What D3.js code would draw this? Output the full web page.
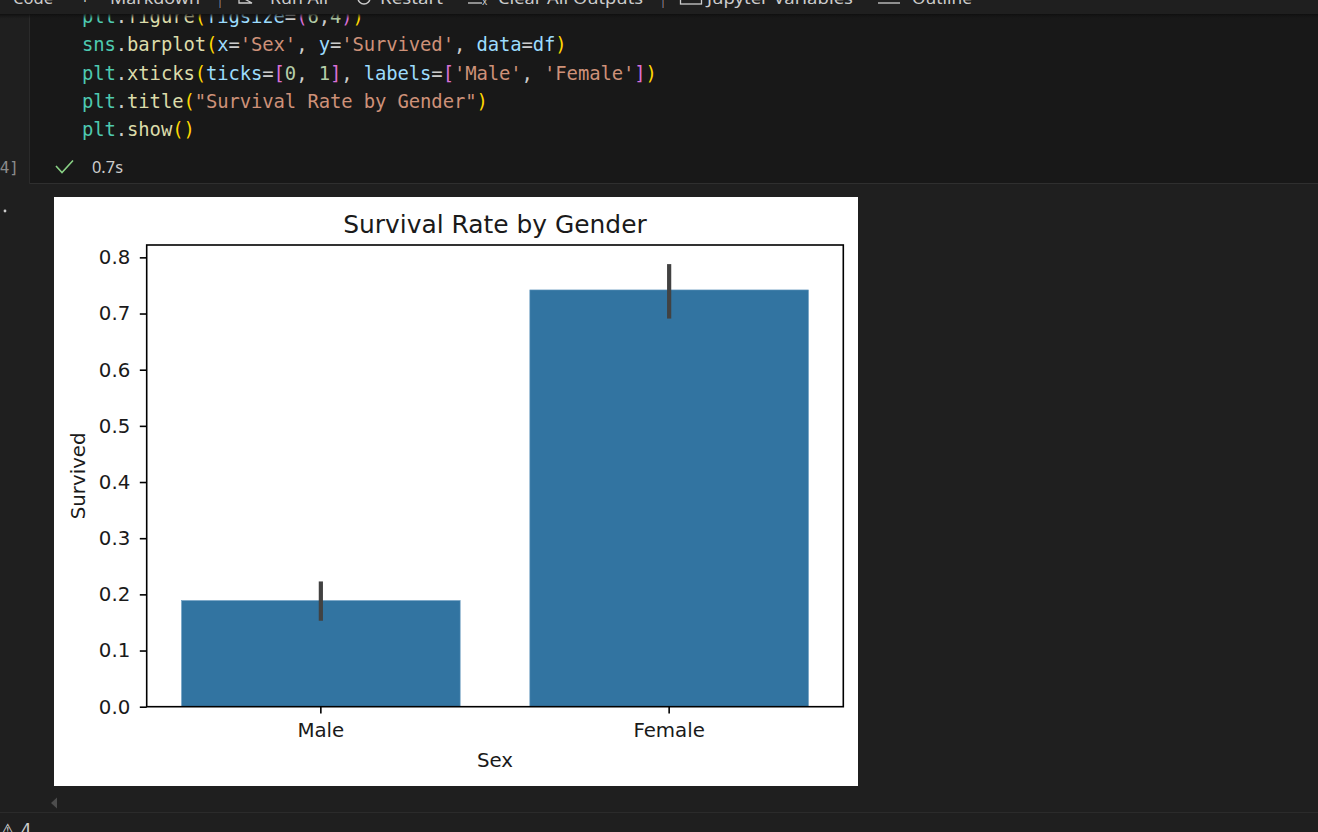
<!DOCTYPE html>
<html>
<head>
<meta charset="utf-8">
<script src="https://cdn.jsdelivr.net/npm/d3@7/dist/d3.min.js"></script>
<style>
  html, body { margin: 0; padding: 0; background: #1f1f1f; overflow: hidden; }
  svg { display: block; }
  .code { white-space: pre; }
</style>
</head>
<body>
<svg id="root" width="1318" height="832"></svg>
<script>
// ---------------- chart data ----------------
const categories = ["Male", "Female"];
const survivalMeans = [0.189, 0.742];
const ciLow = [0.153, 0.691];
const ciHigh = [0.223, 0.788];
const yTickValues = [0.0, 0.1, 0.2, 0.3, 0.4, 0.5, 0.6, 0.7, 0.8];
const yMax = 0.822;
const chartTitle = "Survival Rate by Gender";
const xLabel = "Sex";
const yLabel = "Survived";

// ---------------- notebook text ----------------
const codeLines = [
  [["plt","mod"],[".","p"],["figure","fn"],["(","b1"],["figsize","par"],["=","p"],["(","b2"],["6","num"],[",","p"],["4","num"],[")","b2"],[")","b1"]],
  [["sns","mod"],[".","p"],["barplot","fn"],["(","b1"],["x","par"],["=","p"],["'Sex'","str"],[", ","p"],["y","par"],["=","p"],["'Survived'","str"],[", ","p"],["data","par"],["=","p"],["df","par"],[")","b1"]],
  [["plt","mod"],[".","p"],["xticks","fn"],["(","b1"],["ticks","par"],["=","p"],["[","b2"],["0","num"],[", ","p"],["1","num"],["]","b2"],[", ","p"],["labels","par"],["=","p"],["[","b2"],["'Male'","str"],[", ","p"],["'Female'","str"],["]","b2"],[")","b1"]],
  [["plt","mod"],[".","p"],["title","fn"],["(","b1"],["\"Survival Rate by Gender\"","str"],[")","b1"]],
  [["plt","mod"],[".","p"],["show","fn"],["(","b1"],[")","b1"]]
];
const tokenColors = {mod:"#4ec9b0", fn:"#dcdcaa", par:"#9cdcfe", str:"#ce9178", num:"#b5cea8", p:"#cccccc", b1:"#ffd700", b2:"#da70d6"};
const toolbarItems = [
  {t:"Code", x:13, w:40}, {t:"+", x:80, w:10}, {t:"Markdown", x:110, w:90}, {t:"|", x:218, w:4},
  {t:"Run All", x:270, w:58}, {t:"Restart", x:380, w:63}, {t:"Clear All Outputs", x:498, w:145},
  {t:"|", x:661, w:4}, {t:"Jupyter Variables", x:707, w:146}, {t:"Outline", x:912, w:60}
];

const svg = d3.select("#root");

// ---------------- notebook chrome ----------------
svg.append("rect").attr("x",0).attr("y",0).attr("width",1318).attr("height",832).attr("fill","#1f1f1f");
svg.append("rect").attr("x",30).attr("y",14).attr("width",1288).attr("height",169).attr("fill","#181818");
svg.append("line").attr("x1",29.5).attr("x2",29.5).attr("y1",14).attr("y2",183.5).attr("stroke","#2b2b2b");
svg.append("line").attr("x1",29.5).attr("x2",1318).attr("y1",183.5).attr("y2",183.5).attr("stroke","#2f2f2f");

// code text, every character placed on a monospace grid
const charW = 11.27;
const codeG = svg.append("g");
codeLines.forEach((line, i) => {
  const t = codeG.append("text").attr("class","code")
    .attr("y", 23 + i * 28.3)
    .attr("font-family","'DejaVu Sans Mono', monospace").attr("font-size", 18.9);
  let col = 0;
  line.forEach(tok => {
    const xs = Array.from(tok[0]).map((_, k) => (82 + (col + k) * charW).toFixed(2)).join(" ");
    t.append("tspan").attr("x", xs).attr("fill", tokenColors[tok[1]]).text(tok[0]);
    col += tok[0].length;
  });
});

// toolbar (drawn over the first, partly hidden line)
const defs = svg.append("defs");
const grad = defs.append("linearGradient").attr("id","shadow").attr("x1",0).attr("x2",0).attr("y1",0).attr("y2",1);
grad.append("stop").attr("offset","0%").attr("stop-color","#0e0e0e").attr("stop-opacity",0.9);
grad.append("stop").attr("offset","100%").attr("stop-color","#181818").attr("stop-opacity",0);
svg.append("rect").attr("x",0).attr("y",0).attr("width",1318).attr("height",14).attr("fill","#1f1f1f");
svg.append("rect").attr("x",0).attr("y",14).attr("width",1318).attr("height",5).attr("fill","url(#shadow)");
const tb = svg.append("g").attr("fill","#cccccc").attr("font-family","'Noto Sans', 'Open Sans', sans-serif").attr("font-size",17);
toolbarItems.forEach(it => {
  tb.append("text").attr("x", it.x).attr("y", 3.5).attr("textLength", it.w).attr("lengthAdjust","spacingAndGlyphs").text(it.t);
});
tb.append("path").attr("d","M239,-4 L252,3 L239,3 Z").attr("fill","none").attr("stroke","#cccccc").attr("stroke-width",1.3);
tb.append("path").attr("d","M358,-2 A6,6 0 1 0 370,-2").attr("fill","none").attr("stroke","#cccccc").attr("stroke-width",1.5);
tb.append("line").attr("x1",468).attr("x2",482).attr("y1",3).attr("y2",3).attr("stroke","#cccccc").attr("stroke-width",1.3);
tb.append("text").attr("x",482).attr("y",5).attr("font-size",10).text("x");
tb.append("rect").attr("x",680.5).attr("y",-8).attr("width",21).attr("height",12).attr("fill","none").attr("stroke","#cccccc").attr("stroke-width",1.3);
tb.append("line").attr("x1",878).attr("x2",900).attr("y1",3).attr("y2",3).attr("stroke","#cccccc").attr("stroke-width",1.3);
tb.append("line").attr("x1",878).attr("x2",880).attr("y1",-2).attr("y2",-2).attr("stroke","#cccccc").attr("stroke-width",1.3);

// gutter / status
svg.append("text").attr("x",19).attr("y",173).attr("text-anchor","end").attr("fill","#8b8b8b")
  .attr("font-family","'DejaVu Sans Mono', monospace").attr("font-size",16).text("4]");
svg.append("path").attr("d","M56,166 L62,172.5 L73,160.5").attr("fill","none").attr("stroke","#89d185").attr("stroke-width",1.6);
svg.append("text").attr("x",92).attr("y",173).attr("fill","#cccccc").attr("font-family","'Noto Sans', sans-serif")
  .attr("font-size",16).attr("textLength",31).attr("lengthAdjust","spacingAndGlyphs").text("0.7s");
svg.append("circle").attr("cx",5).attr("cy",211).attr("r",1.4).attr("fill","#cccccc");

svg.append("path").attr("d","M57,797.5 L51,803 L57,808.5 Z").attr("fill","#4d4d4d");
svg.append("line").attr("x1",0).attr("x2",1318).attr("y1",812.5).attr("y2",812.5).attr("stroke","#2b2b2b");
svg.append("text").attr("x",0).attr("y",836).attr("fill","#cccccc").attr("font-family","'DejaVu Sans', sans-serif").attr("font-size",17).text("\u26A0 4");

// ---------------- the matplotlib figure ----------------
svg.append("rect").attr("x",54).attr("y",197).attr("width",804).attr("height",589).attr("fill","#ffffff");

const axL = 146.7, axR = 843.3, axT = 245, axB = 706.7;
const x = d3.scaleBand().domain(categories).range([axL, axR]).paddingInner(0.2).paddingOuter(0.1);
const y = d3.scaleLinear().domain([0, yMax]).range([axB, axT]);

const fig = svg.append("g");
const data = categories.map((c, i) => ({c, m: survivalMeans[i], lo: ciLow[i], hi: ciHigh[i]}));

fig.selectAll("rect.bar").data(data).join("rect").attr("class","bar")
  .attr("x", d => x(d.c)).attr("width", x.bandwidth())
  .attr("y", d => y(d.m)).attr("height", d => y(0) - y(d.m))
  .attr("fill", "#3274a1").attr("stroke","#6a9cc0").attr("stroke-width",0.6);

fig.selectAll("line.err").data(data).join("line").attr("class","err")
  .attr("x1", d => x(d.c) + x.bandwidth()/2).attr("x2", d => x(d.c) + x.bandwidth()/2)
  .attr("y1", d => y(d.lo)).attr("y2", d => y(d.hi))
  .attr("stroke", "#424242").attr("stroke-width", 4.2);

const fontAx = "'DejaVu Sans', sans-serif";
const yAxis = fig.append("g").attr("transform", `translate(${axL},0)`)
  .call(d3.axisLeft(y).tickValues(yTickValues).tickFormat(d3.format(".1f")).tickSize(6.9).tickPadding(9.5));
const xAxis = fig.append("g").attr("transform", `translate(0,${axB})`)
  .call(d3.axisBottom(x).tickSize(6.9).tickPadding(9.4));
[yAxis, xAxis].forEach(g => {
  g.select(".domain").remove();
  g.selectAll(".tick line").attr("stroke","#000").attr("stroke-width",1.6);
  g.selectAll(".tick text").attr("fill","#1a1a1a").attr("font-family",fontAx).attr("font-size",19.8);
});

fig.append("rect").attr("x",axL).attr("y",axT).attr("width",axR-axL).attr("height",axB-axT)
  .attr("fill","none").attr("stroke","#000").attr("stroke-width",1.6);

fig.append("text").attr("x",(axL+axR)/2).attr("y",233).attr("text-anchor","middle")
  .attr("font-family",fontAx).attr("font-size",24.9).attr("fill","#1a1a1a").text(chartTitle);
fig.append("text").attr("x",(axL+axR)/2).attr("y",766.7).attr("text-anchor","middle")
  .attr("font-family",fontAx).attr("font-size",19.8).attr("fill","#1a1a1a").text(xLabel);
fig.append("text").attr("transform",`translate(85,${(axT+axB)/2}) rotate(-90)`).attr("text-anchor","middle")
  .attr("font-family",fontAx).attr("font-size",19.8).attr("fill","#1a1a1a").text(yLabel);
</script>
</body>
</html>
